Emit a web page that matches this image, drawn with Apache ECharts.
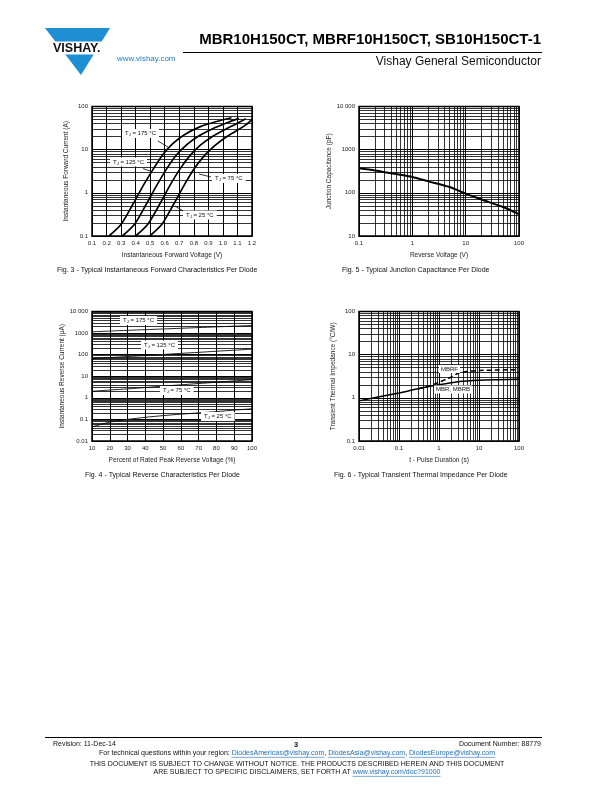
<!DOCTYPE html>
<html><head><meta charset="utf-8">
<script src="https://cdn.jsdelivr.net/npm/echarts@6/dist/echarts.min.js"></script>
<style>html,body{margin:0;padding:0;background:#fff}#c{width:612px;height:792px}</style>
</head><body><div id="c"></div>
<script>
// ---------- DATA ----------
// Fig. 3 - forward characteristics (V, A)
const fwd175V = [0.217,0.302,0.382,0.451,0.520,0.589,0.657,0.738,0.841,0.956,1.059];
const fwd175I = [0.10,0.19,0.55,1.45,3.5,7.8,13.9,22.5,33.7,44.8,54.8];
const fwd125V = [0.309,0.394,0.474,0.543,0.611,0.680,0.754,0.836,0.933,1.024,1.111];
const fwd125I = [0.10,0.19,0.55,1.45,3.5,7.5,13.2,20.9,31.1,41.4,53];
const fwd75V  = [0.400,0.485,0.566,0.634,0.703,0.772,0.845,0.928,1.020,1.093,1.157];
const fwd75I  = [0.10,0.19,0.55,1.45,3.5,7.2,12.7,20.2,29.9,39.9,52];
const fwd25V  = [0.497,0.582,0.662,0.731,0.800,0.868,0.942,1.020,1.105,1.162,1.200];
const fwd25I  = [0.10,0.19,0.55,1.45,3.5,7.0,12.2,19.4,28.9,38.5,50.5];
const fwdXTicks = ['0.1','0.2','0.3','0.4','0.5','0.6','0.7','0.8','0.9','1.0','1.1','1.2'];

// Fig. 5 - junction capacitance
const capV = [0.1,0.2,0.5,1,2,5,10,20,50,100];
const capC = [370,330,272,232,184,136,96,70,47,32];

// Fig. 4 - reverse characteristics (% of VRRM, uA)
const revPct = [10,20,30,40,50,60,70,80,90,100];
const rev175 = [1150,1240,1340,1440,1550,1670,1800,1940,2090,2250];
const rev125 = [65,73,82,91,102,115,128,144,161,180];
const rev75  = [2.0,2.3,2.6,3.0,3.5,4.0,4.6,5.3,6.1,7.0];
const rev25  = [0.045,0.075,0.10,0.125,0.15,0.175,0.20,0.23,0.27,0.31];

// Fig. 6 - transient thermal impedance
const zthT    = [0.01,0.03,0.1,0.3,1,3,10,30,100];
const zthMBR  = [0.85,1.05,1.3,1.62,2.0,2.35,2.55,2.62,2.68];
const zthFT   = [0.3,0.6,1,2,3,5,10,30,100];
const zthMBRF = [1.62,1.9,2.3,3.0,3.7,4.1,4.3,4.4,4.5];

// ---------- CHART ----------
const FONT = 'Liberation Sans, Arial, Helvetica, sans-serif';
const chart = echarts.init(document.getElementById('c'), null, {renderer:'canvas', width:612, height:792});

function pairs(xs, ys){ return xs.map((x,i)=>[x, ys[i]]); }
function minorLog(lo, hi){ const o=[]; for(let e=lo;e<hi;e++) for(let m=2;m<=9;m++) o.push(+(m*Math.pow(10,e)).toPrecision(3)); return o; }
function fmtNum(v){ v = +(+v).toPrecision(6); if (v >= 10000) return '10 000'; return String(v); }

function gridSeries(idx, xs, ys){
  const d = [];
  xs.forEach(v=>d.push({xAxis:v}));
  ys.forEach(v=>d.push({yAxis:v}));
  return {type:'line', xAxisIndex:idx, yAxisIndex:idx, data:[], silent:true, z:1,
    markLine:{silent:true, symbol:['none','none'], label:{show:false}, animation:false,
      lineStyle:{color:'#000', width:0.8, type:'solid'}, emphasis:{disabled:true}, data:d}};
}

function axisBase(extra){
  return Object.assign({
    axisLine:{show:true, lineStyle:{color:'#000', width:1}},
    axisTick:{show:false},
    splitLine:{show:true, lineStyle:{color:'#000', width:1}},
    axisLabel:{fontSize:6, color:'#222', fontFamily:FONT, margin:4, showMinLabel:true, showMaxLabel:true, formatter:fmtNum},
    nameLocation:'middle',
    nameTextStyle:{fontSize:6.5, color:'#222', fontFamily:FONT}
  }, extra);
}

const grids = [
  {left:92, top:106.5, width:160, height:129.5},
  {left:359, top:106.5, width:160, height:129.5},
  {left:92, top:311.5, width:160, height:129.5},
  {left:359, top:311.5, width:160, height:129.5}
].map(g=>Object.assign(g,{show:true, borderColor:'#000', borderWidth:1.5, containLabel:false}));

const xAxes = [
  axisBase({gridIndex:0, type:'value', min:0.1, max:1.2, interval:0.1, name:'Instantaneous Forward Voltage (V)', nameGap:16,
    axisLabel:{fontSize:6, color:'#222', fontFamily:FONT, margin:4, showMinLabel:true, showMaxLabel:true, formatter:(v)=>fwdXTicks[Math.round(v*10)-1] || ''}}),
  axisBase({gridIndex:1, type:'log', logBase:10, min:0.1, max:100, name:'Reverse Voltage (V)', nameGap:16}),
  axisBase({gridIndex:2, type:'value', min:10, max:100, interval:10, name:'Percent of Rated Peak Reverse Voltage (%)', nameGap:16}),
  axisBase({gridIndex:3, type:'log', logBase:10, min:0.01, max:100, name:'t - Pulse Duration (s)', nameGap:16})
];
const yAxes = [
  axisBase({gridIndex:0, type:'log', logBase:10, min:0.1, max:100, name:'Instantaneous Forward Current (A)', nameGap:22}),
  axisBase({gridIndex:1, type:'log', logBase:10, min:10, max:10000, name:'Junction Capacitance (pF)', nameGap:22}),
  axisBase({gridIndex:2, type:'log', logBase:10, min:0.01, max:10000, name:'Instantaneous Reverse Current (μA)', nameGap:22}),
  axisBase({gridIndex:3, type:'log', logBase:10, min:0.1, max:100, name:'Transient Thermal Impedance (°C/W)', nameGap:22})
];

function curve(idx, data, style){
  return {type:'line', xAxisIndex:idx, yAxisIndex:idx, data:data, showSymbol:false, symbol:'none', silent:true, z:3,
    lineStyle:Object.assign({color:'#000', width:1.6}, style), smooth:0.25, animation:false};
}

const series = [
  gridSeries(0, [], minorLog(-1,2)),
  gridSeries(1, minorLog(-1,2), minorLog(1,4)),
  gridSeries(2, [], minorLog(-2,4)),
  gridSeries(3, minorLog(-2,2), minorLog(-1,2)),
  curve(0, pairs(fwd175V, fwd175I), {width:1.7}),
  curve(0, pairs(fwd125V, fwd125I), {width:1.7}),
  curve(0, pairs(fwd75V, fwd75I), {width:1.7}),
  curve(0, pairs(fwd25V, fwd25I), {width:1.7}),
  curve(1, pairs(capV, capC), {width:2}),
  curve(2, pairs(revPct, rev175), {width:1, color:'#222'}),
  curve(2, pairs(revPct, rev125), {width:1, color:'#222'}),
  curve(2, pairs(revPct, rev75), {width:1, color:'#222'}),
  curve(2, pairs(revPct, rev25), {width:1, color:'#222'}),
  curve(3, pairs(zthT, zthMBR), {width:1.5}),
  curve(3, pairs(zthFT, zthMBRF), {width:1.5, type:[5,3]})
];

// ---------- PAGE TEXT / GRAPHICS ----------
const G = [];
function txt(x, y, text, size, opts){
  opts = opts || {};
  G.push({type:'text', x:x, y:y, z:100, silent:true, style:Object.assign({
    text:text, fill:opts.color || '#111', font:(opts.weight||'normal')+' '+size+'px '+FONT,
    textAlign:opts.align || 'left', textVerticalAlign:'middle', verticalAlign:'middle'}, opts.style||{})});
}
function tjLabel(x, y, temp, size){
  size = size || 6;
  G.push({type:'text', x:x, y:y, z:100, silent:true, style:{
    text:'{a|T}{s|J}{a| = '+temp+' °C}', textVerticalAlign:'middle', verticalAlign:'middle',
    backgroundColor:'#fff', padding:[1,3,1,3],
    rich:{a:{fontSize:size, fontFamily:FONT, fill:'#111', color:'#111'},
          s:{fontSize:size*0.7, fontFamily:FONT, fill:'#111', color:'#111', verticalAlign:'bottom', padding:[3,0,0,0]}}}});
}
function boxLabel(x, y, text, size){
  G.push({type:'text', x:x, y:y, z:100, silent:true, style:{text:text, font:size+'px '+FONT, fill:'#111',
    textVerticalAlign:'middle', verticalAlign:'middle', backgroundColor:'#fff', padding:[1,2,1,2]}});
}
function seg(x1,y1,x2,y2,w,color){
  G.push({type:'line', z:99, silent:true, shape:{x1,y1,x2,y2}, style:{stroke:color||'#000', lineWidth:w||0.8}});
}

// Logo
G.push({type:'polygon', z:90, silent:true, shape:{points:[[45,28],[110,28],[81,75]]}, style:{fill:'#1f8fd3'}});
G.push({type:'rect', z:91, silent:true, shape:{x:40, y:41.5, width:72, height:13}, style:{fill:'#fff'}});
txt(53, 48.5, 'VISHAY.', 12.5, {weight:'bold', color:'#111'});

// Header
txt(541, 40, 'MBR10H150CT, MBRF10H150CT, SB10H150CT-1', 15, {weight:'bold', align:'right', color:'#000'});
seg(183, 52.5, 542, 52.5, 1, '#000');
txt(117, 59, 'www.vishay.com', 8, {color:'#2a80c4'});
txt(541, 62, 'Vishay General Semiconductor', 12, {align:'right', color:'#111'});

// Captions
txt(57, 270.5, 'Fig. 3 - Typical Instantaneous Forward Characteristics Per Diode', 7);
txt(342, 270.5, 'Fig. 5 - Typical Junction Capacitance Per Diode', 7);
txt(85, 475, 'Fig. 4 - Typical Reverse Characteristics Per Diode', 7);
txt(334, 475, 'Fig. 6 - Typical Transient Thermal Impedance Per Diode', 7);

// Fig. 3 labels
tjLabel(122, 133.5, '175');
seg(158, 141, 168, 147);
tjLabel(110, 162, '125');
seg(143, 168.5, 150, 171);
tjLabel(212, 178.5, '75');
seg(211, 177, 199, 174);
tjLabel(183, 215, '25');
seg(183, 211, 175, 206);

// Fig. 4 labels
tjLabel(120, 320.5, '175');
tjLabel(141, 345, '125');
tjLabel(160, 390.5, '75');
tjLabel(201, 416.5, '25');

// Fig. 6 labels
boxLabel(439, 369, 'MBRF', 6);
boxLabel(434, 389.5, 'MBR, MBRB', 6);

// Footer
seg(45, 737.5, 542, 737.5, 1, '#000');
txt(53, 744, 'Revision: 11-Dec-14', 7);
txt(296, 744.5, '3', 7.5, {weight:'bold', align:'center'});
txt(541, 744, 'Document Number: 88779', 7, {align:'right'});

const measCtx = document.createElement('canvas').getContext('2d');
function lineOfSegments(cy, size, parts){
  measCtx.font = size+'px '+FONT;
  const widths = parts.map(p=>measCtx.measureText(p.t).width);
  const total = widths.reduce((a,b)=>a+b,0);
  let x = 297 - total/2;
  parts.forEach((p,i)=>{
    txt(x, cy, p.t, size, {color: p.link ? '#1f6fb8' : '#111'});
    if (p.link) seg(x, cy+size*0.55, x+widths[i], cy+size*0.55, 0.6, '#1f6fb8');
    x += widths[i];
  });
}
lineOfSegments(753.5, 7, [
  {t:'For technical questions within your region: '},
  {t:'DiodesAmericas@vishay.com', link:true}, {t:', '},
  {t:'DiodesAsia@vishay.com', link:true}, {t:', '},
  {t:'DiodesEurope@vishay.com', link:true}]);
lineOfSegments(764, 7, [{t:'THIS DOCUMENT IS SUBJECT TO CHANGE WITHOUT NOTICE. THE PRODUCTS DESCRIBED HEREIN AND THIS DOCUMENT'}]);
lineOfSegments(772.5, 7, [{t:'ARE SUBJECT TO SPECIFIC DISCLAIMERS, SET FORTH AT '}, {t:'www.vishay.com/doc?91000', link:true}]);

chart.setOption({
  animation:false,
  backgroundColor:'#fff',
  textStyle:{fontFamily:FONT},
  grid:grids, xAxis:xAxes, yAxis:yAxes, series:series, graphic:G
});
</script></body></html>
